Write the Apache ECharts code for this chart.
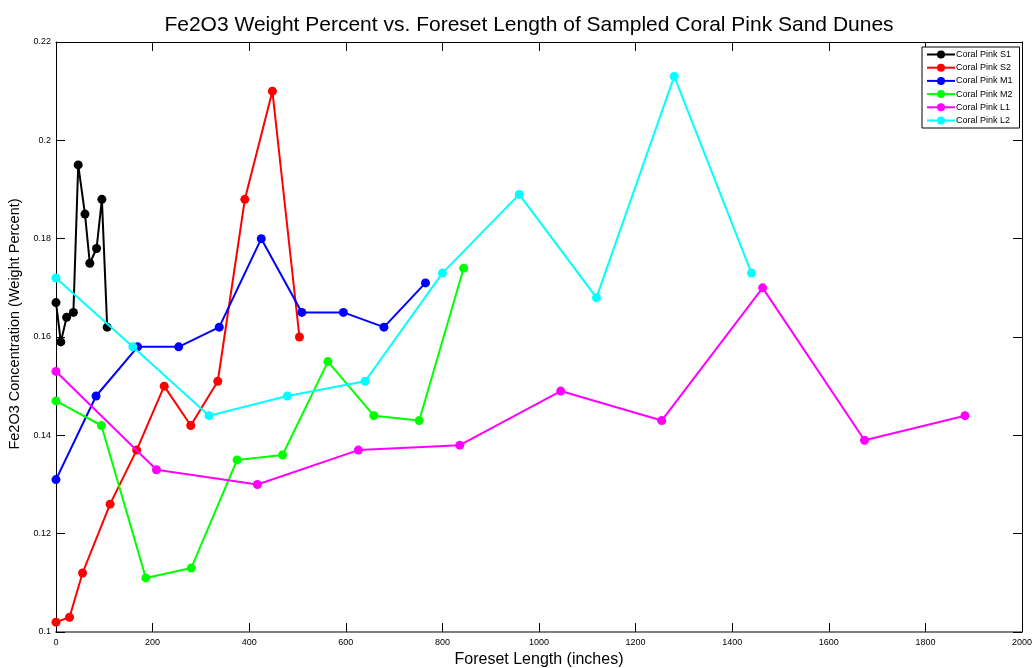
<!DOCTYPE html>
<html>
<head>
<meta charset="utf-8">
<script src="https://cdn.jsdelivr.net/npm/echarts@6/dist/echarts.min.js"></script>
<style>html,body{margin:0;padding:0;background:#fff}#c{width:1033px;height:668px}</style>
</head>
<body>
<div id="c"></div>
<script>
const seriesNames = ['Coral Pink S1','Coral Pink S2','Coral Pink M1','Coral Pink M2','Coral Pink L1','Coral Pink L2'];
const seriesColors = ['#000000','#ff0000','#0000ff','#00ff00','#ff00ff','#00ffff'];

const s1X = [0, 10, 22, 36, 46, 60, 70, 84, 95, 106];
const s1Y = [0.167, 0.159, 0.164, 0.165, 0.195, 0.185, 0.175, 0.178, 0.188, 0.162];

const s2X = [0, 28, 55, 112, 167, 224, 279, 335, 391, 448, 504];
const s2Y = [0.102, 0.103, 0.112, 0.126, 0.137, 0.150, 0.142, 0.151, 0.188, 0.210, 0.160];

const m1X = [0, 83, 169, 254, 338, 425, 509, 595, 679, 765];
const m1Y = [0.131, 0.148, 0.158, 0.158, 0.162, 0.180, 0.165, 0.165, 0.162, 0.171];

const m2X = [0, 94, 186, 280, 375, 469, 563, 658, 752, 844];
const m2Y = [0.147, 0.142, 0.111, 0.113, 0.135, 0.136, 0.155, 0.144, 0.143, 0.174];

const l1X = [0, 208, 417, 626, 836, 1045, 1254, 1463, 1674, 1882];
const l1Y = [0.153, 0.133, 0.130, 0.137, 0.138, 0.149, 0.143, 0.170, 0.139, 0.144];

const l2X = [0, 159, 317, 479, 640, 800, 959, 1119, 1280, 1440];
const l2Y = [0.172, 0.158, 0.144, 0.148, 0.151, 0.173, 0.189, 0.168, 0.213, 0.173];

const xTicks = [0, 200, 400, 600, 800, 1000, 1200, 1400, 1600, 1800, 2000];
const yTicks = [0.1, 0.12, 0.14, 0.16, 0.18, 0.2, 0.22];

const allX = [s1X, s2X, m1X, m2X, l1X, l2X];
const allY = [s1Y, s2Y, m1Y, m2Y, l1Y, l2Y];

const chart = echarts.init(document.getElementById('c'), null, {renderer: 'canvas'});
const fam = '"Liberation Sans", Arial, sans-serif';

const series = seriesNames.map((n, i) => ({
  name: n,
  type: 'line',
  xAxisIndex: 0,
  yAxisIndex: 0,
  data: allX[i].map((x, j) => [x, allY[i][j]]),
  symbol: 'circle',
  symbolSize: 9,
  showSymbol: true,
  lineStyle: {color: seriesColors[i], width: 2},
  itemStyle: {color: seriesColors[i]},
  animation: false,
  z: 3 + i
}));

const tickFmtY = v => {
  const r = Math.round(v * 100) / 100;
  return String(r);
};

chart.setOption({
  animation: false,
  backgroundColor: '#fff',
  title: {
    text: 'Fe2O3 Weight Percent vs. Foreset Length of Sampled Coral Pink Sand Dunes',
    left: 524, top: 10, textAlign: 'center',
    textStyle: {fontFamily: fam, fontSize: 21, fontWeight: 'normal', color: '#000'}
  },
  grid: {left: 56, right: 11, top: 42, bottom: 36, containLabel: false, outerBoundsMode: 'none'},
  legend: {
    orient: 'vertical',
    left: 922, top: 47,
    padding: [3, 7, 3, 4],
    itemWidth: 28, itemHeight: 10, itemGap: 4.2,
    borderColor: '#000', borderWidth: 1,
    backgroundColor: '#fff',
    data: seriesNames,
    textStyle: {fontFamily: fam, fontSize: 9, color: '#000', padding: [0, 0, 0, -4]}
  },
  xAxis: [{
    type: 'value', min: 0, max: 2000, interval: 200, position: 'bottom',
    name: 'Foreset Length (inches)', nameLocation: 'middle', nameGap: 20,
    nameTextStyle: {fontFamily: fam, fontSize: 16, color: '#000'},
    axisLine: {show: true, onZero: false, lineStyle: {color: '#7f7f7f', width: 2}},
    axisTick: {show: true, inside: true, length: 9, lineStyle: {color: '#000', width: 1}},
    axisLabel: {fontFamily: fam, fontSize: 9, color: '#000', margin: 6,
      formatter: v => xTicks.includes(v) ? String(v) : ''},
    splitLine: {show: false}
  }, {
    type: 'value', min: 0, max: 2000, interval: 200, position: 'top',
    axisLine: {show: true, onZero: false, lineStyle: {color: '#000', width: 1}},
    axisTick: {show: true, inside: true, length: 9, lineStyle: {color: '#000', width: 1}},
    axisLabel: {show: false}, splitLine: {show: false}
  }],
  yAxis: [{
    type: 'value', min: 0.1, max: 0.22, interval: 0.02, position: 'left',
    name: 'Fe2O3 Concentration (Weight Percent)', nameLocation: 'middle', nameGap: 19,
    nameTextStyle: {fontFamily: fam, fontSize: 14.5, color: '#000', padding: [0, 0, 10, 26]},
    axisLine: {show: true, onZero: false, lineStyle: {color: '#000', width: 1}},
    axisTick: {show: true, inside: true, length: 9, lineStyle: {color: '#000', width: 1}},
    axisLabel: {fontFamily: fam, fontSize: 9, color: '#000', margin: 5, formatter: tickFmtY},
    splitLine: {show: false}
  }, {
    type: 'value', min: 0.1, max: 0.22, interval: 0.02, position: 'right',
    axisLine: {show: true, onZero: false, lineStyle: {color: '#000', width: 1}},
    axisTick: {show: true, inside: true, length: 9, lineStyle: {color: '#000', width: 1}},
    axisLabel: {show: false}, splitLine: {show: false}
  }],
  series: series
});
</script>
</body>
</html>
